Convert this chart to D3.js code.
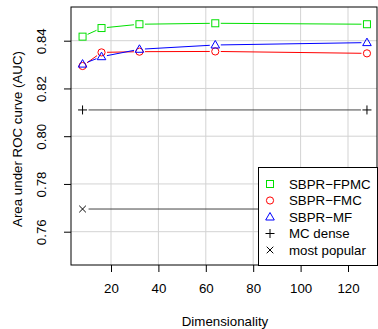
<!DOCTYPE html>
<html><head><meta charset="utf-8">
<script src="https://cdn.jsdelivr.net/npm/d3@7/dist/d3.min.js"></script>
<style>body{margin:0;background:#fff}svg{display:block;font-family:"Liberation Sans",Arial,sans-serif}</style>
</head><body><svg id="c" width="378" height="329"></svg>
<script>
const dims = [8, 16, 32, 64, 128];
const fpmc = [0.8417, 0.8453, 0.8469, 0.8473, 0.8469];
const fmc  = [0.8294, 0.8351, 0.8354, 0.8355, 0.8347];
const mf   = [0.8302, 0.8333, 0.8364, 0.8382, 0.8392];
const mcDenseX = [8, 128], mcDense = [0.811, 0.811];
const popX = [8, 128], pop = [0.7695, 0.7695];
const xTicks = [20, 40, 60, 80, 100, 120];
const yTicks = [0.76, 0.78, 0.80, 0.82, 0.84];
const legendLabels = ["SBPR\u2212FPMC", "SBPR\u2212FMC", "SBPR\u2212MF", "MC dense", "most popular"];

const FS = 13.3;
const svg = d3.select("#c");
const L = 71, R = 377, T = 7, B = 265;
const x = d3.scaleLinear().domain([0, 128]).range([63.6, 63.6 + 128 * 2.37]);
const y = d3.scaleLinear().domain([0.76, 0.84]).range([231.7, 40.7]);

// grid
const g = svg.append("g");
xTicks.forEach(t => g.append("line").attr("x1", x(t)).attr("x2", x(t)).attr("y1", T).attr("y2", B)
  .attr("stroke", "#d3d3d3").attr("stroke-width", 1));
yTicks.forEach(t => g.append("line").attr("x1", L).attr("x2", R).attr("y1", y(t)).attr("y2", y(t))
  .attr("stroke", "#d3d3d3").attr("stroke-width", 1));

// lines with gaps (R type="b")
function bLine(xs, ys, color, gap) {
  for (let i = 0; i < xs.length - 1; i++) {
    const x1 = x(xs[i]), y1 = y(ys[i]), x2 = x(xs[i + 1]), y2 = y(ys[i + 1]);
    const dx = x2 - x1, dy = y2 - y1, len = Math.hypot(dx, dy);
    if (len <= 2 * gap) continue;
    const ux = dx / len, uy = dy / len;
    svg.append("line").attr("x1", x1 + ux * gap).attr("y1", y1 + uy * gap)
      .attr("x2", x2 - ux * gap).attr("y2", y2 - uy * gap)
      .attr("stroke", color).attr("stroke-width", 1);
  }
}
bLine(dims, fpmc, "#00e000", 5.5);
bLine(dims, fmc, "#ff0000", 5.5);
bLine(dims, mf, "#0000ff", 5.5);
bLine(mcDenseX, mcDense, "#444", 6);
bLine(popX, pop, "#444", 6);

// markers
function marker(sel, type, cx, cy, color) {
  if (type === "sq") sel.append("rect").attr("x", cx - 3.5).attr("y", cy - 3.5).attr("width", 7).attr("height", 7)
    .attr("fill", "none").attr("stroke", color);
  else if (type === "ci") sel.append("circle").attr("cx", cx).attr("cy", cy).attr("r", 3.6)
    .attr("fill", "none").attr("stroke", color);
  else if (type === "tr") sel.append("path").attr("d", `M${cx},${cy - 4.5}L${cx + 4.3},${cy + 3}L${cx - 4.3},${cy + 3}Z`)
    .attr("fill", "none").attr("stroke", color);
  else if (type === "pl") sel.append("path").attr("d", `M${cx - 4.5},${cy}H${cx + 4.5}M${cx},${cy - 4.5}V${cy + 4.5}`)
    .attr("stroke", color);
  else if (type === "x") sel.append("path").attr("d", `M${cx - 3.3},${cy - 3.3}L${cx + 3.3},${cy + 3.3}M${cx - 3.3},${cy + 3.3}L${cx + 3.3},${cy - 3.3}`)
    .attr("stroke", color);
}
dims.forEach((d, i) => marker(svg, "sq", x(d), y(fpmc[i]), "#00e000"));
dims.forEach((d, i) => marker(svg, "ci", x(d), y(fmc[i]), "#ff0000"));
dims.forEach((d, i) => marker(svg, "tr", x(d), y(mf[i]), "#0000ff"));
mcDenseX.forEach((d, i) => marker(svg, "pl", x(d), y(mcDense[i]), "#000"));
marker(svg, "x", x(popX[0]), y(pop[0]), "#000");

// box
svg.append("rect").attr("x", L).attr("y", T).attr("width", R - L).attr("height", B - T)
  .attr("fill", "none").attr("stroke", "#000").attr("stroke-width", 1);

// axes
const xa = svg.append("g").attr("transform", `translate(0,${B})`)
  .call(d3.axisBottom(x).tickValues(xTicks).tickSize(7).tickPadding(12).tickFormat(d3.format("d")));
xa.select(".domain").remove();
xa.selectAll("text").attr("font-size", FS).attr("font-family", "Liberation Sans, Arial, sans-serif").attr("fill", "#000");
const ya = svg.append("g").attr("transform", `translate(${L},0)`)
  .call(d3.axisLeft(y).tickValues(yTicks).tickSize(7).tickFormat(d3.format(".2f")));
ya.select(".domain").remove();
ya.selectAll("text").attr("font-size", FS).attr("font-family", "Liberation Sans, Arial, sans-serif").attr("fill", "#000")
  .attr("text-anchor", "middle").attr("x", 0).attr("dy", 0)
  .attr("transform", "translate(-20,0) rotate(-90) translate(0,-4.8)");

svg.append("text").attr("x", 225).attr("y", 325.5).attr("text-anchor", "middle").attr("font-size", FS)
  .text("Dimensionality");
svg.append("text").attr("transform", `translate(21.5,139) rotate(-90)`).attr("text-anchor", "middle")
  .attr("font-size", FS).text("Area under ROC curve (AUC)");

// legend
const lg = svg.append("g");
lg.append("rect").attr("x", 258.5).attr("y", 167.5).attr("width", 119).attr("height", 98)
  .attr("fill", "#fff").attr("stroke", "#000");
const lt = ["sq", "ci", "tr", "pl", "x"], lc = ["#00e000", "#ff0000", "#0000ff", "#000", "#000"];
legendLabels.forEach((lab, i) => {
  const cy = 184 + i * 16.5;
  marker(lg, lt[i], 270, cy, lc[i]);
  lg.append("text").attr("x", 289).attr("y", cy + 4.8).attr("font-size", FS).text(lab);
});
</script></body></html>
